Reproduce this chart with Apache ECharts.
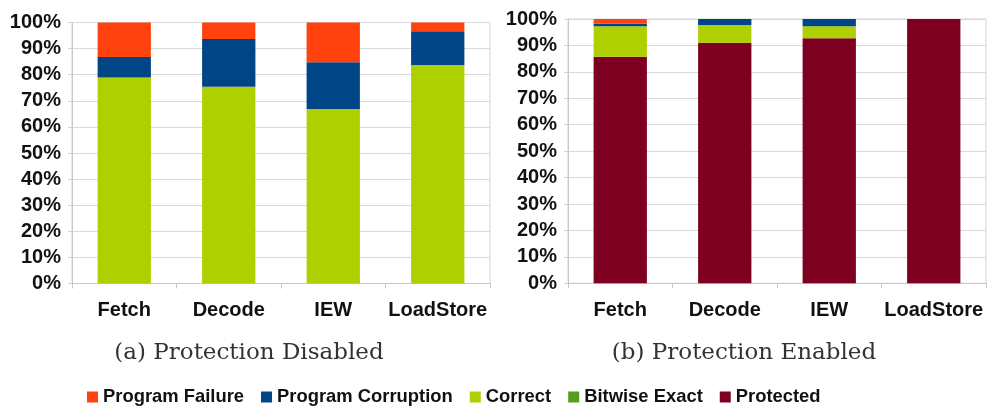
<!DOCTYPE html>
<html>
<head>
<meta charset="utf-8">
<script src="https://cdn.jsdelivr.net/npm/echarts@6/dist/echarts.min.js"></script>
<style>html,body{margin:0;padding:0;background:#fff;}#c{width:989px;height:406px;}</style>
</head>
<body>
<div id="c"></div>
<script>
var categories = ['Fetch', 'Decode', 'IEW', 'LoadStore'];
var yTicks = [0, 10, 20, 30, 40, 50, 60, 70, 80, 90, 100];
var seriesNames = ['Program Failure', 'Program Corruption', 'Correct', 'Bitwise Exact', 'Protected'];
var seriesColors = ['#FF420E', '#004586', '#AECF00', '#579D1C', '#7E0021'];
var captions = ['(a) Protection Disabled', '(b) Protection Enabled'];

// (a) Protection Disabled
var disFailure    = [13.2, 6.3, 15.2, 3.4];
var disCorruption = [7.9, 18.3, 17.9, 12.9];
var disCorrect    = [78.9, 75.4, 66.9, 83.7];
var disBitwise    = [0, 0, 0, 0];
var disProtected  = [0, 0, 0, 0];

// (b) Protection Enabled
var enFailure    = [1.8, 0, 0, 0];
var enCorruption = [0.9, 2.3, 2.7, 0];
var enCorrect    = [11.6, 6.7, 4.6, 0];
var enBitwise    = [0, 0, 0, 0];
var enProtected  = [85.7, 91.0, 92.7, 100];

var chart = echarts.init(document.getElementById('c'));
var labelFont = { fontFamily: 'Liberation Sans', fontWeight: 'bold', fontSize: 20, color: '#111' };

function makeSeries(idx, data) {
  // stack order bottom->top: Protected, Bitwise, Correct, Corruption, Failure
  var order = [4, 3, 2, 1, 0];
  return order.map(function (k) {
    return {
      name: seriesNames[k], type: 'bar', stack: 's' + idx,
      xAxisIndex: idx, yAxisIndex: idx,
      barWidth: '51%',
      itemStyle: { color: seriesColors[k] },
      data: data[k]
    };
  });
}

var gridStyle = { show: true, borderColor: '#d4d4d4', borderWidth: 1, backgroundColor: 'transparent' };

function xAxisCfg(idx) {
  return {
    type: 'category', gridIndex: idx, data: categories,
    axisLine: { lineStyle: { color: '#c8c8c8' } },
    axisTick: { show: true, length: 5, lineStyle: { color: '#c8c8c8' } },
    axisLabel: Object.assign({ margin: 17, interval: 0 }, labelFont)
  };
}
function yAxisCfg(idx) {
  return {
    type: 'value', gridIndex: idx, min: yTicks[0], max: yTicks[yTicks.length - 1], interval: 10,
    axisLine: { show: true, lineStyle: { color: '#c8c8c8' } },
    axisTick: { show: true, length: 4, lineStyle: { color: '#d4d4d4' } },
    splitLine: { lineStyle: { color: '#d9d9d9' } },
    axisLabel: Object.assign({ margin: 11, formatter: '{value}%' }, labelFont)
  };
}

chart.setOption({
  backgroundColor: '#ffffff',
  animation: false,
  grid: [
    Object.assign({ left: 72, right: 499, top: 22.5, bottom: 122.5 }, gridStyle),
    Object.assign({ left: 568, right: 3, top: 19, bottom: 122.7 }, gridStyle)
  ],
  xAxis: [xAxisCfg(0), xAxisCfg(1)],
  yAxis: [yAxisCfg(0), yAxisCfg(1)],
  legend: {
    data: seriesNames,
    left: 87, top: 388, padding: 0,
    itemWidth: 11, itemHeight: 11, itemGap: 17,
    icon: 'rect',
    textStyle: { fontFamily: 'Liberation Sans', fontWeight: 'bold', fontSize: 18.4, color: '#111' }
  },
  graphic: [
    { type: 'text', x: 249, y: 353, style: { text: captions[0], font: '23px "DejaVu Serif"', fill: '#333', align: 'center', verticalAlign: 'middle' } },
    { type: 'text', x: 744, y: 353, style: { text: captions[1], font: '23px "DejaVu Serif"', fill: '#333', align: 'center', verticalAlign: 'middle' } }
  ],
  series: makeSeries(0, [disFailure, disCorruption, disCorrect, disBitwise, disProtected])
    .concat(makeSeries(1, [enFailure, enCorruption, enCorrect, enBitwise, enProtected]))
});
</script>
</body>
</html>
